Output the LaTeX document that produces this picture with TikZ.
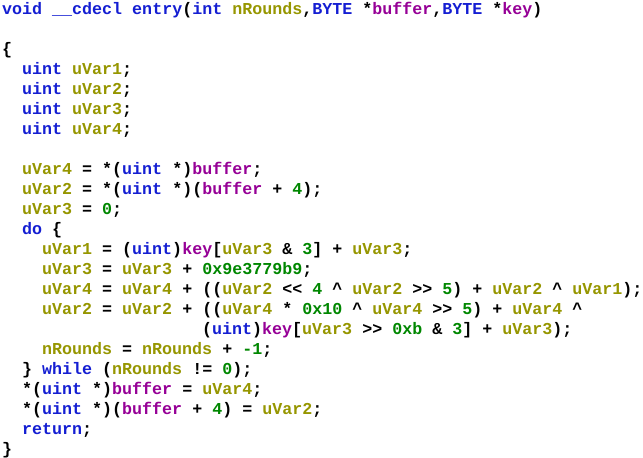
\documentclass[tikz,border=0pt]{standalone}
\usepackage{fontspec}
\newfontfamily\codefont{Liberation Mono}
\definecolor{ctype}{RGB}{20,30,210}
\definecolor{cvar}{RGB}{150,150,0}
\definecolor{cpar}{RGB}{150,0,150}
\definecolor{cnum}{RGB}{0,135,0}
\newcommand\Ty[1]{\textcolor{ctype}{#1}}
\newcommand\Va[1]{\textcolor{cvar}{#1}}
\newcommand\Pa[1]{\textcolor{cpar}{#1}}
\newcommand\Nu[1]{\textcolor{cnum}{#1}}
\newcommand\xo{\^{}}
\newcommand\CodeLine[3]{\node[ln] (l#1) at ({2+10*#2},{-(14+20*#1)}) {#3};}
\begin{document}
\begin{tikzpicture}[x=1pt,y=1pt,
  ln/.style={anchor=base west,inner sep=0pt,font=\codefont\bfseries\fontsize{16.67}{20}\selectfont}]
\useasboundingbox (0,0) rectangle (643,-458);
\CodeLine{0}{0}{\Ty{void} \Ty{\_\_cdecl} \Ty{entry}(\Ty{int} \Va{nRounds},\Ty{BYTE} *\Pa{buffer},\Ty{BYTE} *\Pa{key})}
\CodeLine{2}{0}{\{}
\CodeLine{3}{2}{\Ty{uint} \Va{uVar1};}
\CodeLine{4}{2}{\Ty{uint} \Va{uVar2};}
\CodeLine{5}{2}{\Ty{uint} \Va{uVar3};}
\CodeLine{6}{2}{\Ty{uint} \Va{uVar4};}
\CodeLine{8}{2}{\Va{uVar4} = *(\Ty{uint} *)\Pa{buffer};}
\CodeLine{9}{2}{\Va{uVar2} = *(\Ty{uint} *)(\Pa{buffer} + \Nu{4});}
\CodeLine{10}{2}{\Va{uVar3} = \Nu{0};}
\CodeLine{11}{2}{\Ty{do} \{}
\CodeLine{12}{4}{\Va{uVar1} = (\Ty{uint})\Pa{key}[\Va{uVar3} \& \Nu{3}] + \Va{uVar3};}
\CodeLine{13}{4}{\Va{uVar3} = \Va{uVar3} + \Nu{0x9e3779b9};}
\CodeLine{14}{4}{\Va{uVar4} = \Va{uVar4} + ((\Va{uVar2} <{}< \Nu{4} \xo{} \Va{uVar2} >{}> \Nu{5}) + \Va{uVar2} \xo{} \Va{uVar1});}
\CodeLine{15}{4}{\Va{uVar2} = \Va{uVar2} + ((\Va{uVar4} * \Nu{0x10} \xo{} \Va{uVar4} >{}> \Nu{5}) + \Va{uVar4} \xo}
\CodeLine{16}{20}{(\Ty{uint})\Pa{key}[\Va{uVar3} >{}> \Nu{0xb} \& \Nu{3}] + \Va{uVar3});}
\CodeLine{17}{4}{\Va{nRounds} = \Va{nRounds} + \Nu{-1};}
\CodeLine{18}{2}{\} \Ty{while} (\Va{nRounds} != \Nu{0});}
\CodeLine{19}{2}{*(\Ty{uint} *)\Pa{buffer} = \Va{uVar4};}
\CodeLine{20}{2}{*(\Ty{uint} *)(\Pa{buffer} + \Nu{4}) = \Va{uVar2};}
\CodeLine{21}{2}{\Ty{return};}
\CodeLine{22}{0}{\}}
\end{tikzpicture}
\end{document}
